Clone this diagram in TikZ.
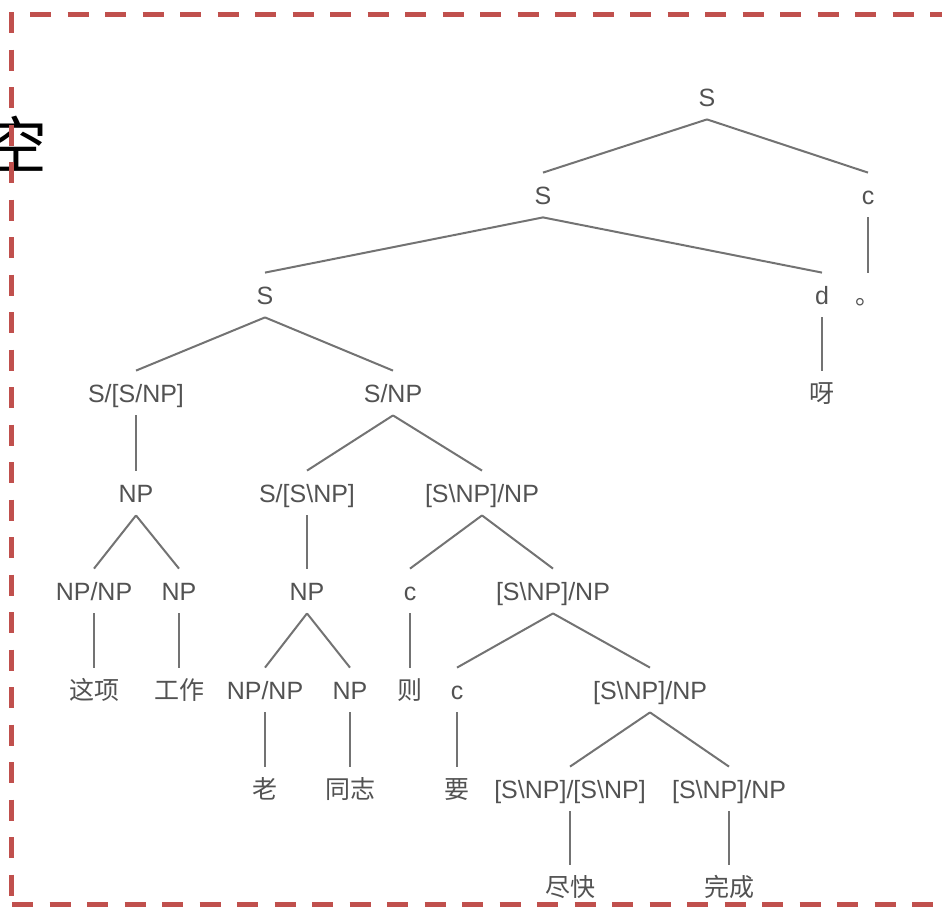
\documentclass[tikz,border=0pt]{standalone}
\usepackage{fontspec}
\setmainfont{Liberation Sans}
\newfontfamily\cjk{Noto Sans CJK SC}
\newcommand\bsl{\textbackslash}
\definecolor{frame}{RGB}{192,80,77}

\begin{document}
\begin{tikzpicture}[x=0.5pt,y=-0.5pt,
  lbl/.style={text=black!68,font=\fontsize{12.5}{15}\selectfont,text height=9pt,text depth=0pt,inner xsep=1pt,inner ysep=6.5pt},
  cn/.style={lbl,font=\cjk\fontsize{12.5}{15}\selectfont},
  edge/.style={draw=black!55,line width=1pt},
  frm/.style={draw=frame,line width=2.5pt,dash pattern=on 10.5pt off 8.25pt}]
\useasboundingbox (0,0) rectangle (942,906);

\begin{scope}
\clip (0,0) rectangle (942,906);
\node[anchor=base,font=\cjk\fontsize{31}{31}\selectfont] (kong) at (17,168) {空};
\draw [frm] (11,12) -- (11,920);
\draw [frm] (30,14) -- (950,14);
\draw [frm] (12,904) -- (950,904);
\end{scope}

\node[lbl] (root) at (707,97) {S};
\node[lbl] (s2) at (543,195) {S};
\node[lbl] (c1) at (868,195) {c};
\node[lbl] (s3) at (265,295) {S};
\node[lbl] (d) at (822,295) {d};
\node[cn] (stop) at (868,295) {。};
\node[lbl] (ssnp) at (136,393) {S/[S/NP]};
\node[lbl] (snp) at (393,393) {S/NP};
\node[cn] (ya) at (822,393) {呀};
\node[lbl] (np1) at (136,493) {NP};
\node[lbl] (ssbnp) at (307,493) {S/[S\bsl NP]};
\node[lbl] (vp1) at (482,493) {[S\bsl NP]/NP};
\node[lbl] (npnp1) at (94,591) {NP/NP};
\node[lbl] (np2) at (179,591) {NP};
\node[lbl] (np3) at (307,591) {NP};
\node[lbl] (c2) at (410,591) {c};
\node[lbl] (vp2) at (553,591) {[S\bsl NP]/NP};
\node[cn] (zhexiang) at (94,690) {这项};
\node[cn] (gongzuo) at (179,690) {工作};
\node[lbl] (npnp2) at (265,690) {NP/NP};
\node[lbl] (np4) at (350,690) {NP};
\node[cn] (ze) at (410,690) {则};
\node[lbl] (c3) at (457,690) {c};
\node[lbl] (vp3) at (650,690) {[S\bsl NP]/NP};
\node[cn] (lao) at (265,789) {老};
\node[cn] (tongzhi) at (350,789) {同志};
\node[cn] (yao) at (457,789) {要};
\node[lbl] (adv) at (570,789) {[S\bsl NP]/[S\bsl NP]};
\node[lbl] (vp4) at (729,789) {[S\bsl NP]/NP};
\node[cn] (jinkuai) at (570,887) {尽快};
\node[cn] (wancheng) at (729,887) {完成};

\draw [edge] (root.south) -- (s2.north);
\draw [edge] (root.south) -- (c1.north);
\draw [edge] (s2.south) -- (s3.north);
\draw [edge] (s2.south) -- (d.north);
\draw [edge] (c1.south) -- (stop.north);
\draw [edge] (s3.south) -- (ssnp.north);
\draw [edge] (s3.south) -- (snp.north);
\draw [edge] (d.south) -- (ya.north);
\draw [edge] (ssnp.south) -- (np1.north);
\draw [edge] (snp.south) -- (ssbnp.north);
\draw [edge] (snp.south) -- (vp1.north);
\draw [edge] (np1.south) -- (npnp1.north);
\draw [edge] (np1.south) -- (np2.north);
\draw [edge] (ssbnp.south) -- (np3.north);
\draw [edge] (vp1.south) -- (c2.north);
\draw [edge] (vp1.south) -- (vp2.north);
\draw [edge] (npnp1.south) -- (zhexiang.north);
\draw [edge] (np2.south) -- (gongzuo.north);
\draw [edge] (np3.south) -- (npnp2.north);
\draw [edge] (np3.south) -- (np4.north);
\draw [edge] (c2.south) -- (ze.north);
\draw [edge] (vp2.south) -- (c3.north);
\draw [edge] (vp2.south) -- (vp3.north);
\draw [edge] (npnp2.south) -- (lao.north);
\draw [edge] (np4.south) -- (tongzhi.north);
\draw [edge] (c3.south) -- (yao.north);
\draw [edge] (vp3.south) -- (adv.north);
\draw [edge] (vp3.south) -- (vp4.north);
\draw [edge] (adv.south) -- (jinkuai.north);
\draw [edge] (vp4.south) -- (wancheng.north);
\end{tikzpicture}
\end{document}
